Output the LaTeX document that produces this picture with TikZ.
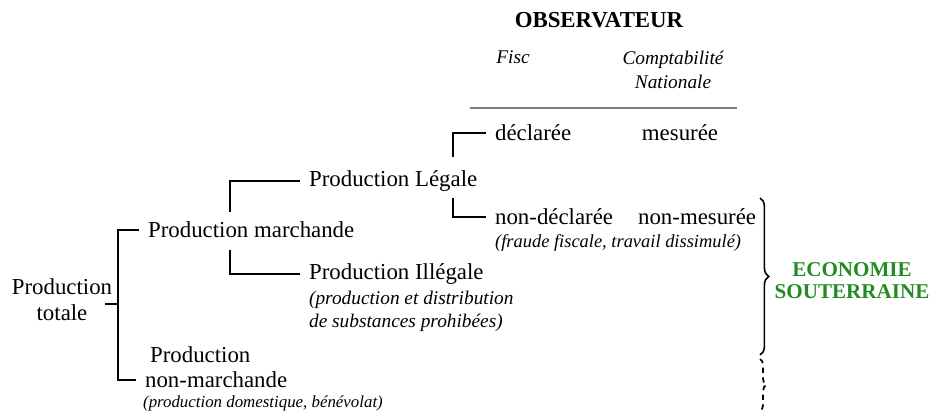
\documentclass[tikz,border=0pt]{standalone}
\usepackage{fontspec}
\setmainfont{Liberation Serif}
\usetikzlibrary{decorations.pathreplacing}
\definecolor{ecogreen}{RGB}{34,139,34}

\begin{document}
\begin{tikzpicture}[x=0.02cm, y=-0.02cm,
    every node/.style={font=\fontsize{13}{15}\selectfont, inner sep=5pt},
    lab/.style={anchor=west},
    note/.style={anchor=west, font=\fontsize{11}{13}\selectfont\itshape},
    head/.style={font=\fontsize{11}{14}\selectfont\itshape, align=center},
    link/.style={line width=1pt},
    accol/.style={line width=0.9pt, decorate, decoration={brace, amplitude=5pt}}]
  \useasboundingbox (0,0) rectangle (932,412);
  % observateur
  \node[font=\fontsize{13}{15}\selectfont\bfseries] (obs) at (599,20) {OBSERVATEUR};
  \node[head] (fisc) at (513,57) {Fisc};
  \node[head] (cn) at (673,70) {Comptabilité\\Nationale};
  \coordinate (rg) at (470,108);
  \coordinate (rd) at (737,108);
  \draw[gray, line width=0.8pt] (rg) -- (rd);
  % production legale
  \node[lab] (decl) at (486,133) {déclarée};
  \node (mes) at (680,133) {mesurée};
  \node[lab] (nondecl) at (486,217) {non-déclarée};
  \node[lab] (nonmes) at (629,217) {non-mesurée};
  \node[note, font=\fontsize{10.5}{13}\selectfont\itshape] (fraude) at (486,243)
    {(fraude fiscale, travail dissimulé)};
  \node[lab] (legale) at (300,181) {Production Légale};
  \coordinate (ltop) at (453,157);
  \coordinate (lbot) at (453,198);
  \draw[link] (decl.west) -| (ltop);
  \draw[link] (nondecl.west) -| (lbot);
  % production marchande
  \node[lab] (march) at (139,230) {Production marchande};
  \node[lab] (illeg) at (300,274) {Production Illégale};
  \node[note, align=left] (illnote) at (300,311.5)
    {(production et distribution\\de substances prohibées)};
  \coordinate (mtop) at (230,212);
  \coordinate (mbot) at (230,250);
  \draw[link] (legale.west) -| (mtop);
  \draw[link] (illeg.west) -| (mbot);
  % production totale
  \node[align=center, font=\fontsize{13}{14.7}\selectfont] (tot) at (62,300) {Production\\totale};
  \node[lab] (nmprod) at (141,355) {Production};
  \node[lab] (nonmarch) at (136,380) {non-marchande};
  \node[note, font=\fontsize{9.6}{12}\selectfont\itshape] (domest) at (134,403)
    {(production domestique, bénévolat)};
  \coordinate (tstub) at (105,304);
  \coordinate (tj) at (118,304);
  \draw[link] (tstub) -- (tj);
  \draw[link] (march.west) -| (tj) |- (nonmarch.west);
  % economie souterraine
  \coordinate (bh) at (760,198);
  \coordinate (bb) at (760,355);
  \coordinate (dh) at (760,359);
  \coordinate (db) at (760,411);
  \draw[accol] (bh) -- (bb);
  \draw[line width=1pt, decorate, decoration={brace, amplitude=3.5pt},
        dash pattern=on 3pt off 2.5pt] (dh) -- (db);
  \node[font=\fontsize{12}{12.5}\selectfont\bfseries, text=ecogreen, align=center] (eco) at (852,281)
    {ECONOMIE\\SOUTERRAINE};
\end{tikzpicture}
\end{document}
